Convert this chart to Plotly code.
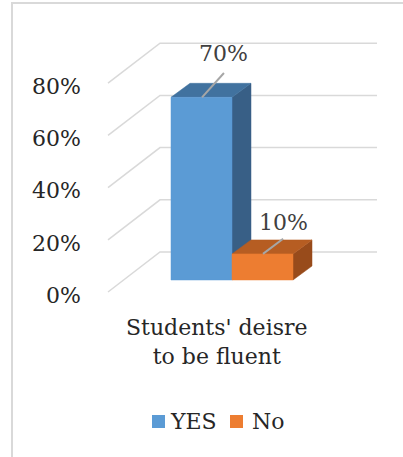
import plotly.graph_objects as go

# ---- data ----
category = "Students' deisre<br>to be fluent"
series_names = ["YES", "No"]
series_values = [70, 10]
tick_values = [0, 20, 40, 60, 80]
tick_labels = ["0%", "20%", "40%", "60%", "80%"]

# ---- style / geometry ----
W, H = 403, 457
FONT = "DejaVu Serif"
front_colors = ["#5B9BD5", "#ED7D31"]
top_colors = ["#41729F", "#B65D22"]
side_colors = ["#385F86", "#984B1B"]
PX_X = 61.0          # px per bar width unit
PX_Y = 2.61          # px per percent
X0PX, Y0PX = 171, 280  # pixel of (0,0)
BAR_DX, BAR_DY = 19 / PX_X, 14 / PX_Y          # bar depth offset
WALL_BACK_DY = 28 / PX_Y                         # back wall above bar front plane
WALL_FRONT_DY = -12 / PX_Y                       # floor front edge below
WALL_BACK_X0 = (160 - X0PX) / PX_X
WALL_BACK_X1 = (377 - X0PX) / PX_X
WALL_FRONT_X = (108 - X0PX) / PX_X
LEADER = [(0.36, 9.3), (0.33, 5.8)]
LABEL_GAP = [7.3, 6.4]

xr = [(0 - X0PX) / PX_X, (W - X0PX) / PX_X]
yr = [(Y0PX - H) / PX_Y, Y0PX / PX_Y]

fig = go.Figure()

# gridlines on back wall and side wall
for t in tick_values:
    fig.add_trace(go.Scatter(
        x=[WALL_FRONT_X, WALL_BACK_X0, WALL_BACK_X1],
        y=[t + WALL_FRONT_DY, t + WALL_BACK_DY, t + WALL_BACK_DY],
        mode="lines", line=dict(color="#D9D9D9", width=1.5),
        hoverinfo="skip", showlegend=False))

# bars (oblique 3D)
for i, (name, v) in enumerate(zip(series_names, series_values)):
    x0, x1 = i, i + 1
    # side face
    fig.add_trace(go.Scatter(
        x=[x1, x1, x1 + BAR_DX, x1 + BAR_DX, x1],
        y=[0, v, v + BAR_DY, BAR_DY, 0],
        fill="toself", fillcolor=side_colors[i], mode="lines",
        line=dict(color=side_colors[i], width=0.5),
        hoverinfo="skip", showlegend=False))
    # top face
    fig.add_trace(go.Scatter(
        x=[x0, x1, x1 + BAR_DX, x0 + BAR_DX, x0],
        y=[v, v, v + BAR_DY, v + BAR_DY, v],
        fill="toself", fillcolor=top_colors[i], mode="lines",
        line=dict(color=top_colors[i], width=0.5),
        hoverinfo="skip", showlegend=False))
    # front face
    fig.add_trace(go.Scatter(
        x=[x0, x1, x1, x0, x0],
        y=[0, 0, v, v, 0],
        fill="toself", fillcolor=front_colors[i], mode="lines",
        line=dict(color=front_colors[i], width=0.5),
        name=name, hoverinfo="skip", showlegend=False))

# leader lines and data labels
for i, v in enumerate(series_values):
    sx, sy = i + 0.508, v
    dx, dy = LEADER[i]
    fig.add_trace(go.Scatter(
        x=[sx, sx + dx], y=[sy, sy + dy], mode="lines",
        line=dict(color="#A6A6A6", width=2),
        hoverinfo="skip", showlegend=False))
    fig.add_annotation(x=sx + dx, y=sy + dy + LABEL_GAP[i],
                       text=f"{v}%", showarrow=False,
                       font=dict(family=FONT, size=22, color="#404040"),
                       xanchor="center", yanchor="middle")

# axis tick labels
for t, lab in zip(tick_values, tick_labels):
    fig.add_annotation(x=(83 - X0PX) / PX_X, y=t + WALL_FRONT_DY - 1.3,
                       text=lab, showarrow=False, xanchor="right", yanchor="middle",
                       font=dict(family=FONT, size=22, color="#262626"))

# category label
fig.add_annotation(x=(217 - X0PX) / PX_X, y=(Y0PX - 342) / PX_Y,
                   text=category, showarrow=False, xanchor="center", yanchor="middle",
                   font=dict(family=FONT, size=22, color="#262626"))

# legend (manual)
shapes = []
leg = [(152, 168), (230, 250)]
for i, name in enumerate(series_names):
    sqx, tx = leg[i]
    shapes.append(dict(type="rect", xref="paper", yref="paper",
                       x0=sqx / W, x1=(sqx + 13) / W,
                       y0=1 - 428 / H, y1=1 - 415 / H,
                       fillcolor=front_colors[i], line=dict(width=0)))
    fig.add_annotation(xref="paper", yref="paper", x=tx / W, y=1 - 421 / H,
                       text=name, showarrow=False, xanchor="left", yanchor="middle",
                       font=dict(family=FONT, size=22, color="#262626"))

# frame
shapes.append(dict(type="rect", xref="paper", yref="paper",
                   x0=12 / W, x1=1.1, y0=-0.1, y1=1 - 3 / H,
                   line=dict(color="#D9D9D9", width=2), fillcolor="rgba(0,0,0,0)",
                   layer="below"))

fig.update_layout(
    width=W, height=H,
    margin=dict(l=0, r=0, t=0, b=0),
    paper_bgcolor="white", plot_bgcolor="white",
    xaxis=dict(range=xr, visible=False, fixedrange=True),
    yaxis=dict(range=yr, visible=False, fixedrange=True),
    shapes=shapes,
    showlegend=False,
)

fig.write_html("out.html")
